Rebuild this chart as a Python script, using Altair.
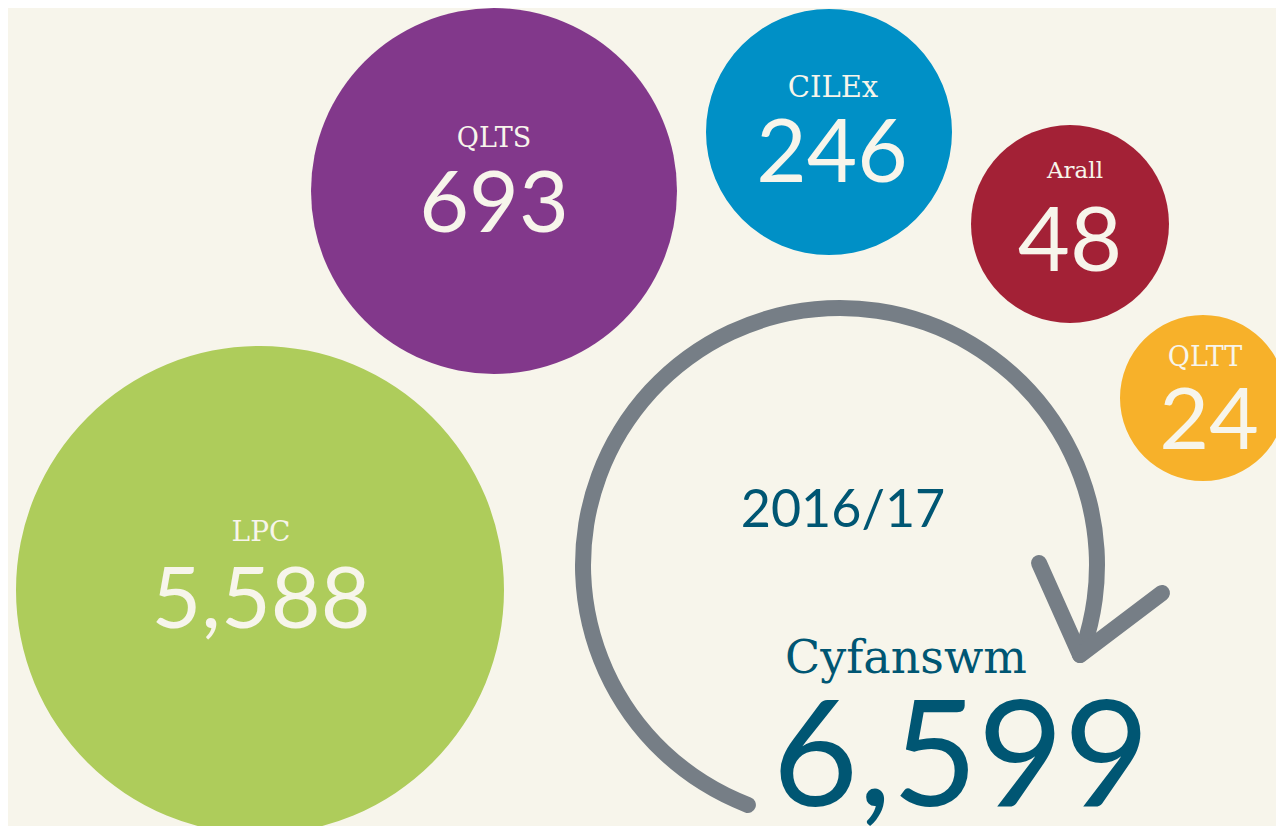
import altair as alt
import pandas as pd

# ---- data ----
categories = ["LPC", "QLTS", "CILEx", "Arall", "QLTT"]
values = [5588, 693, 246, 48, 24]
total_label = "Cyfanswm"
total_value = 6599
period = "2016/17"

# ---- styles / layout (page pixel coordinates) ----
colors = ["#AECC5B", "#82388B", "#0090C6", "#A32136", "#F7B12A"]
cx = [260, 494, 829, 1070, 1203]
cy = [590, 191, 132, 224, 398]
radius = [244, 183, 123, 99, 83]
label_x = [261, 494, 833, 1075, 1205]
label_y = [541, 147, 97, 178, 366]
value_x = [261, 494, 832, 1070, 1209]
value_y = [628, 232, 182, 271, 449]
label_size = [28, 27, 29, 23, 27]
value_size = [86, 86, 87, 90, 86]

BG = "#F7F5EB"
TEXT_LIGHT = "#F7F5EB"
TEAL = "#005673"
GREY = "#767E86"
OFF = 8
W, H = 1284 - 2 * OFF, 834 - 2 * OFF

df = pd.DataFrame({
    "category": categories, "value": values, "color": colors,
    "cx": cx, "cy": cy, "r": radius,
    "lx": label_x, "ly": label_y, "vx": value_x, "vy": value_y,
    "ls": label_size, "vs": value_size,
})
# Vega circle symbol: size = (diameter)^2
df["area"] = (2 * df["r"]) ** 2

xs = alt.Scale(domain=[OFF, OFF + W], range=[0, W], nice=False, zero=False)
ys = alt.Scale(domain=[OFF, OFF + H], range=[0, H], nice=False, zero=False)

bubbles = alt.Chart(df).mark_circle(opacity=1).encode(
    x=alt.X("cx:Q", scale=xs, axis=None),
    y=alt.Y("cy:Q", scale=ys, axis=None),
    size=alt.Size("area:Q", scale=None, legend=None),
    color=alt.Color("color:N", scale=None, legend=None),
)

labels = alt.Chart(df).mark_text(
    font="DejaVu Serif", color=TEXT_LIGHT, align="center", baseline="alphabetic"
).encode(
    x=alt.X("lx:Q", scale=xs, axis=None),
    y=alt.Y("ly:Q", scale=ys, axis=None),
    size=alt.Size("ls:Q", scale=None, legend=None),
    text="category:N",
)

nums = alt.Chart(df).mark_text(
    font="Lato", color=TEXT_LIGHT, align="center", baseline="alphabetic"
).encode(
    x=alt.X("vx:Q", scale=xs, axis=None),
    y=alt.Y("vy:Q", scale=ys, axis=None),
    size=alt.Size("vs:Q", scale=None, legend=None),
    text=alt.Text("value:Q", format=","),
)

# circular arrow
arc_cx, arc_cy = 840, 565
arc = alt.Chart(pd.DataFrame({"k": [0]})).mark_arc(
    color=GREY, cornerRadius=8
).encode(
    x=alt.value(arc_cx - OFF), y=alt.value(arc_cy - OFF),
    theta=alt.value(3.477), theta2=alt.value(8.214),
    radius=alt.value(265), radius2=alt.value(249),
)

arrow = pd.DataFrame({
    "x": [1039, 1162], "y": [563, 593], "x2": [1080, 1080], "y2": [655, 655],
})
heads = alt.Chart(arrow).mark_rule(color=GREY, strokeWidth=16, strokeCap="round").encode(
    x=alt.X("x:Q", scale=xs, axis=None), y=alt.Y("y:Q", scale=ys, axis=None),
    x2="x2:Q", y2="y2:Q",
)

texts = pd.DataFrame({
    "t": [period, total_label, f"{total_value:,}"],
    "x": [843, 906, 961], "y": [527, 673, 806],
    "s": [52, 46, 148],
})
t1 = alt.Chart(texts.iloc[[0]]).mark_text(font="Lato", color=TEAL, align="center", baseline="alphabetic").encode(
    x=alt.X("x:Q", scale=xs, axis=None), y=alt.Y("y:Q", scale=ys, axis=None),
    size=alt.Size("s:Q", scale=None, legend=None), text="t:N")
t2 = alt.Chart(texts.iloc[[1]]).mark_text(font="DejaVu Serif", color=TEAL, align="center", baseline="alphabetic").encode(
    x=alt.X("x:Q", scale=xs, axis=None), y=alt.Y("y:Q", scale=ys, axis=None),
    size=alt.Size("s:Q", scale=None, legend=None), text="t:N")
t3 = alt.Chart(texts.iloc[[2]]).mark_text(font="Lato", color=TEAL, align="center", baseline="alphabetic").encode(
    x=alt.X("x:Q", scale=xs, axis=None), y=alt.Y("y:Q", scale=ys, axis=None),
    size=alt.Size("s:Q", scale=None, legend=None), text="t:N")

chart = alt.layer(arc, heads, bubbles, labels, nums, t1, t2, t3).properties(
    width=W, height=H, background=BG, padding=0,
    autosize=alt.AutoSizeParams(type="none"),
).configure_view(stroke=None)

chart.save("out.html", embed_options={"renderer": "svg", "actions": False})
